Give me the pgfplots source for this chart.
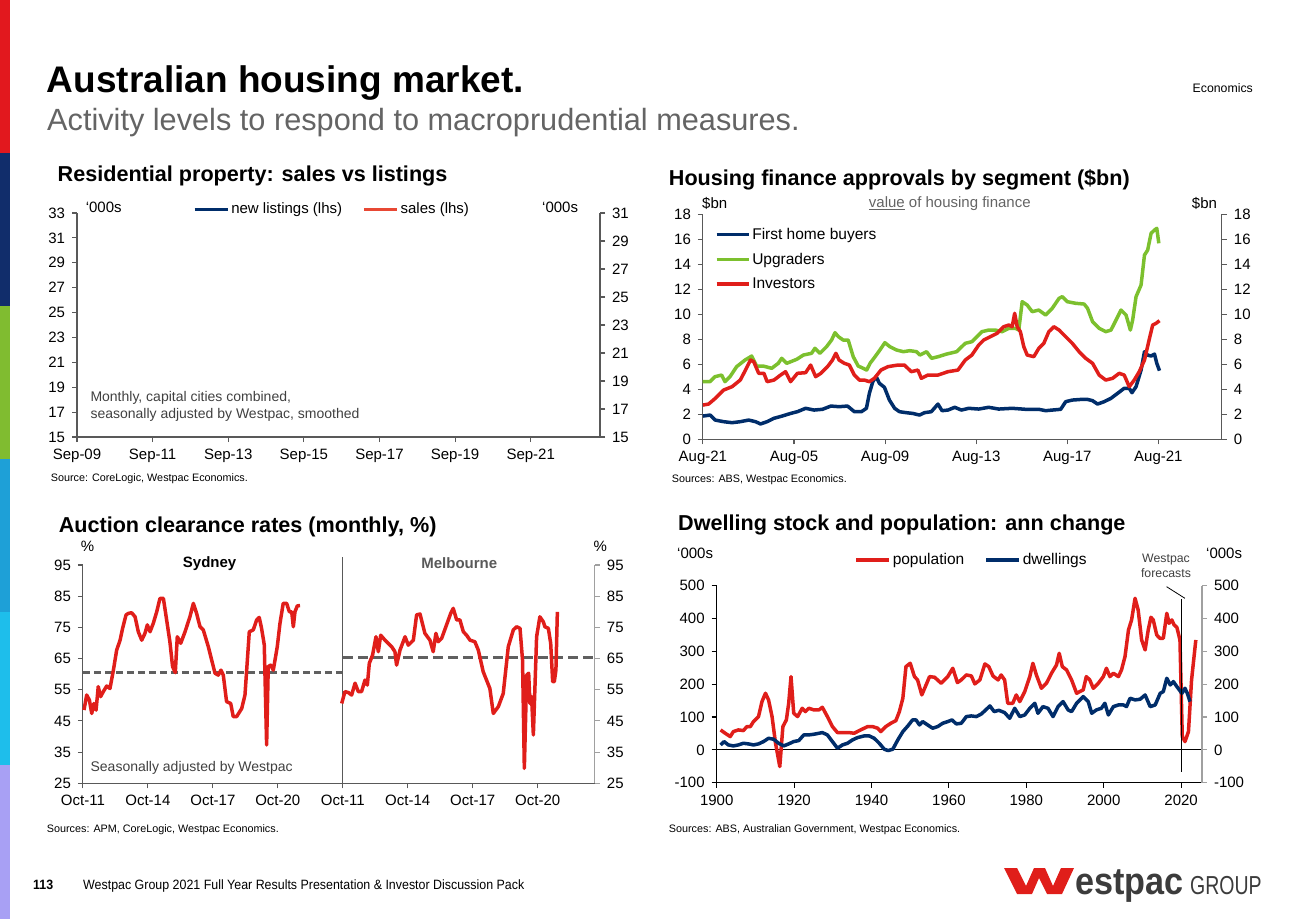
\documentclass[border=0pt]{standalone}
\usepackage{fontspec}
\setmainfont{Liberation Sans}
\newfontfamily\narrowfont[FakeStretch=0.92]{Liberation Sans}
\newfontfamily\logofont[FakeStretch=0.9]{Liberation Sans}
\newfontfamily\groupfont[FakeStretch=0.75]{Liberation Sans}
\usepackage{pgfplots}
\pgfplotsset{compat=1.18}
\definecolor{wred}{RGB}{224,30,26}
\definecolor{wnavy}{RGB}{0,45,106}
\definecolor{wgreen}{RGB}{124,192,46}
\definecolor{salesred}{RGB}{232,72,52}
\definecolor{axgray}{RGB}{89,89,89}
\definecolor{ltgray}{RGB}{160,160,160}
\definecolor{dashgray}{RGB}{96,96,96}
\definecolor{subgray}{RGB}{100,100,100}
\definecolor{notegray}{RGB}{64,64,64}
\definecolor{logogray}{RGB}{60,60,60}
\definecolor{bar1}{RGB}{226,24,30}
\definecolor{bar2}{RGB}{17,45,107}
\definecolor{bar3}{RGB}{128,188,48}
\definecolor{bar4}{RGB}{30,160,215}
\definecolor{bar5}{RGB}{30,190,235}
\definecolor{bar6}{RGB}{168,160,244}
\newcommand{\fs}[1]{\fontsize{#1pt}{#1pt}\selectfont}
\pgfplotsset{
  wbase/.style={
    scale only axis, clip=false,
    axis line style={line width=1.1pt, draw=axgray},
    tick style={line width=1.1pt, draw=axgray},
    major tick length=5pt, tick align=outside,
    tick label style={font=\fs{15}},
    yticklabel shift=3.5pt, xticklabel shift=3.5pt,
    /pgf/number format/assume math mode=true,
    every axis plot/.append style={line width=3.5pt, line join=round},
  },
}
\begin{document}
\begin{tikzpicture}
\path[use as bounding box] (0pt,0pt) rectangle (1300pt,-919pt);
% side bar
\fill[bar1] (0pt,0pt) rectangle (10pt,-153pt);
\fill[bar2] (0pt,-153pt) rectangle (10pt,-306pt);
\fill[bar3] (0pt,-306pt) rectangle (10pt,-459pt);
\fill[bar4] (0pt,-459pt) rectangle (10pt,-612pt);
\fill[bar5] (0pt,-612pt) rectangle (10pt,-765pt);
\fill[bar6] (0pt,-765pt) rectangle (10pt,-919pt);
% titles
\node[anchor=base west, inner sep=0pt] at (46.7pt,-92.5pt) {\fs{37}\bfseries Australian housing market.};
\node[anchor=base west, inner sep=0pt, text=subgray] at (47pt,-130pt) {\fs{30.7}Activity levels to respond to macroprudential measures.};
\node[anchor=base east, inner sep=0pt] at (1253pt,-92pt) {\fs{12.3}Economics};
\node[anchor=base west, inner sep=0pt] at (57.5pt,-181.5pt) {\fs{21.6}\bfseries Residential property: sales vs listings};
\node[anchor=base west, inner sep=0pt] at (668.7pt,-185.5pt) {\fs{21.6}\bfseries Housing finance approvals by segment (\$bn)};
\node[anchor=base west, inner sep=0pt] at (58.6pt,-532pt) {\fs{21.6}\bfseries Auction clearance rates (monthly, \%)};
\node[anchor=base west, inner sep=0pt] at (678pt,-530pt) {\fs{21.6}\bfseries Dwelling stock and population: ann change};
% sources
\node[anchor=west, inner sep=0pt] at (50.6pt,-479pt) {\fs{10.8}Source: CoreLogic, Westpac Economics.};
\node[anchor=west, inner sep=0pt] at (671.7pt,-479.3pt) {\fs{10.8}Sources: ABS, Westpac Economics.};
\node[anchor=west, inner sep=0pt] at (46.7pt,-830pt) {\fs{10.8}Sources: APM, CoreLogic, Westpac Economics.};
\node[anchor=west, inner sep=0pt] at (668.7pt,-830pt) {\fs{10.8}Sources: ABS, Australian Government, Westpac Economics.};
% chart 1 texts
\node[anchor=west, inner sep=0pt] at (85.6pt,-207.7pt) {\fs{15}‘000s};
\node[anchor=west, inner sep=0pt] at (542pt,-207.7pt) {\fs{15}‘000s};
\node[anchor=west, inner sep=0pt, text=notegray] at (90.3pt,-398.3pt) {\fs{14}Monthly, capital cities combined,};
\node[anchor=west, inner sep=0pt, text=notegray] at (90.3pt,-415pt) {\fs{14}seasonally adjusted by Westpac, smoothed};
% chart 2 texts
\node[anchor=west, inner sep=0pt] at (702pt,-203.3pt) {\fs{15}\$bn};
\node[anchor=west, inner sep=0pt] at (1191.7pt,-203.3pt) {\fs{15}\$bn};
\node[anchor=west, inner sep=0pt, text=subgray] at (868.7pt,-203.3pt) {\fs{15}\underline{value} of housing finance};
% chart 3 texts
\node[inner sep=0pt] at (87.6pt,-546pt) {\fs{15}\%};
\node[inner sep=0pt] at (600.3pt,-546pt) {\fs{15}\%};
\node[inner sep=0pt] at (209.6pt,-563.3pt) {\fs{15}\bfseries Sydney};
\node[inner sep=0pt, text=axgray] at (459.3pt,-563.3pt) {\fs{15}\bfseries Melbourne};
\node[anchor=west, inner sep=0pt, text=notegray] at (90.4pt,-767.7pt) {\fs{14}Seasonally adjusted by Westpac};
% chart 4 texts
\node[anchor=west, inner sep=0pt] at (677pt,-553.3pt) {\fs{15}‘000s};
\node[anchor=west, inner sep=0pt] at (1206pt,-553.3pt) {\fs{15}‘000s};
\node[inner sep=0pt, text=notegray] at (1166pt,-559.3pt) {\fs{12.3}Westpac};
\node[inner sep=0pt, text=notegray] at (1166pt,-573.3pt) {\fs{12.3}forecasts};
% footer
\node[anchor=base west, inner sep=0pt] at (33pt,-889pt) {\narrowfont\fs{13.5}\bfseries 113};
\node[anchor=base west, inner sep=0pt] at (83pt,-889pt) {\narrowfont\fs{13.5}Westpac Group 2021 Full Year Results Presentation \& Investor Discussion Pack};
\fill[wred] (1004pt,-868pt) -- (1017pt,-868pt) -- (1026pt,-886pt) -- (1034pt,-868pt) -- (1045pt,-868pt) -- (1053pt,-886pt) -- (1061pt,-868pt) -- (1074pt,-868pt) -- (1062pt,-894pt) -- (1047pt,-894pt) -- (1039pt,-878pt) -- (1032pt,-894pt) -- (1017pt,-894pt) -- cycle;
\node[anchor=base west, inner sep=0pt, text=logogray] at (1075pt,-894pt) {\logofont\fs{38}\bfseries estpac};
\node[anchor=base west, inner sep=0pt, text=logogray] at (1190pt,-894pt) {\groupfont\fs{26}GROUP};

% ================= chart 1 =================
\begin{axis}[wbase, at={(77pt,-437pt)}, anchor=south west, width=523pt, height=224pt,
  xmin=0, xmax=166, ymin=15, ymax=33, ytick={15,17,...,33},
  xtick={0,24,48,72,96,120,144},
  xticklabels={Sep-09,Sep-11,Sep-13,Sep-15,Sep-17,Sep-19,Sep-21},
  axis y line*=left, axis x line*=bottom,
  legend columns=2,
  legend style={at={(0.221,1.0165)}, anchor=west, draw=none, fill=none, font=\fs{15}, inner sep=0pt,
    /tikz/every even column/.append style={column sep=18pt}},
  legend image code/.code={\draw[#1, line width=3.5pt] (0pt,0pt) -- (33pt,0pt);},
]
\addlegendimage{wnavy}
\addlegendentry{new listings (lhs)}
\addlegendimage{salesred}
\addlegendentry{sales (lhs)}
\end{axis}
\begin{axis}[wbase, at={(77pt,-437pt)}, anchor=south west, width=523pt, height=224pt,
  xmin=0, xmax=166, ymin=15, ymax=31, ytick={15,17,...,31},
  axis y line*=right, axis x line=none]
\end{axis}

% ================= chart 2 =================
\begin{axis}[wbase, at={(702.9pt,-439.3pt)}, anchor=south west, width=519pt, height=225pt,
  xmin=2001.58, xmax=2024.37, ymin=0, ymax=18, ytick={0,2,...,18},
  xtick={2001.58,2005.58,2009.58,2013.58,2017.58,2021.58},
  xticklabels={Aug-21,Aug-05,Aug-09,Aug-13,Aug-17,Aug-21},
  axis y line*=left, axis x line*=bottom,
  legend style={at={(0.0225,0.948)}, anchor=north west, draw=none, fill=none, font=\fs{15.5}, inner sep=0pt, row sep=8pt},
  legend cell align=left,
  legend image code/.code={\draw[#1, line width=3.5pt] (0pt,0pt) -- (32pt,0pt);},
]
\addplot[wnavy] coordinates {
(2001.58,1.86) (2001.90,1.94) (2002.12,1.54) (2002.49,1.41) (2002.86,1.33) (2003.22,1.41) (2003.59,1.54) (2003.89,1.41) (2004.11,1.23) (2004.40,1.41) (2004.70,1.68) (2005.06,1.86) (2005.43,2.07) (2005.73,2.21) (2006.09,2.48) (2006.46,2.34) (2006.83,2.40) (2007.20,2.66) (2007.56,2.61) (2007.93,2.66) (2008.23,2.21) (2008.54,2.21) (2008.76,2.48) (2008.89,3.68) (2009.04,4.61) (2009.19,5.01) (2009.33,4.48) (2009.55,4.16) (2009.77,3.14) (2010.00,2.48) (2010.21,2.21) (2010.51,2.13) (2010.80,2.07) (2011.09,1.94) (2011.31,2.13) (2011.61,2.21) (2011.90,2.82) (2012.08,2.29) (2012.34,2.34) (2012.64,2.56) (2012.93,2.34) (2013.25,2.48) (2013.69,2.42) (2014.13,2.56) (2014.57,2.42) (2015.16,2.48) (2015.75,2.40) (2016.33,2.40) (2016.63,2.29) (2016.92,2.34) (2017.29,2.40) (2017.51,3.01) (2017.80,3.14) (2018.17,3.19) (2018.47,3.19) (2018.69,3.09) (2018.91,2.82) (2019.20,3.01) (2019.50,3.28) (2019.79,3.68) (2020.08,4.08) (2020.30,4.08) (2020.42,3.73) (2020.60,4.21) (2020.82,5.54) (2020.97,7.01) (2021.11,6.74) (2021.26,6.66) (2021.41,6.82) (2021.51,6.08) (2021.63,5.49)
};
\addlegendentry{First home buyers}
\addplot[wgreen] coordinates {
(2001.57,4.61) (2001.89,4.61) (2002.11,5.01) (2002.40,5.14) (2002.55,4.61) (2002.77,5.01) (2003.06,5.81) (2003.43,6.34) (2003.72,6.66) (2003.94,5.86) (2004.23,5.86) (2004.60,5.68) (2004.89,6.08) (2005.04,6.48) (2005.26,6.08) (2005.70,6.40) (2005.99,6.74) (2006.35,6.88) (2006.50,7.28) (2006.72,6.88) (2007.01,7.41) (2007.23,7.94) (2007.38,8.53) (2007.53,8.21) (2007.74,7.94) (2007.96,7.94) (2008.18,6.61) (2008.40,5.86) (2008.62,5.68) (2008.77,5.54) (2008.92,6.08) (2009.14,6.61) (2009.35,7.14) (2009.57,7.73) (2009.79,7.41) (2010.09,7.14) (2010.38,7.01) (2010.67,7.09) (2010.96,7.01) (2011.11,6.74) (2011.40,7.01) (2011.62,6.48) (2011.91,6.61) (2012.28,6.82) (2012.72,7.01) (2013.10,7.68) (2013.39,7.81) (2013.61,8.21) (2013.83,8.61) (2014.13,8.74) (2014.42,8.74) (2014.72,8.61) (2015.01,8.88) (2015.30,8.88) (2015.45,8.74) (2015.60,11.01) (2015.82,10.74) (2016.04,10.21) (2016.33,10.34) (2016.63,9.94) (2016.92,10.48) (2017.22,11.28) (2017.36,11.41) (2017.58,11.01) (2017.95,10.88) (2018.32,10.82) (2018.47,10.48) (2018.69,9.41) (2018.98,8.88) (2019.27,8.61) (2019.50,8.74) (2019.72,9.54) (2019.94,10.34) (2020.16,9.94) (2020.35,8.74) (2020.45,9.54) (2020.60,11.41) (2020.82,12.34) (2020.97,14.74) (2021.11,15.14) (2021.26,16.48) (2021.41,16.74) (2021.51,16.88) (2021.60,15.68)
};
\addlegendentry{Upgraders}
\addplot[wred] coordinates {
(2001.58,2.74) (2001.83,2.82) (2002.12,3.27) (2002.49,3.94) (2002.86,4.21) (2003.22,4.74) (2003.45,5.54) (2003.67,6.34) (2003.81,6.21) (2004.03,5.28) (2004.26,5.28) (2004.40,4.61) (2004.70,4.74) (2004.99,5.14) (2005.21,5.41) (2005.43,4.61) (2005.73,5.28) (2006.09,5.33) (2006.31,5.94) (2006.53,5.01) (2006.76,5.28) (2007.05,5.81) (2007.27,6.34) (2007.42,6.88) (2007.56,6.34) (2007.79,6.08) (2008.01,5.94) (2008.23,5.14) (2008.45,4.74) (2008.67,4.74) (2008.89,4.61) (2009.11,4.88) (2009.40,5.54) (2009.70,5.81) (2010.14,5.94) (2010.43,5.94) (2010.73,5.41) (2011.02,5.54) (2011.17,4.88) (2011.46,5.14) (2011.90,5.14) (2012.34,5.41) (2012.78,5.54) (2013.10,6.34) (2013.39,6.74) (2013.69,7.54) (2013.91,7.94) (2014.20,8.21) (2014.50,8.48) (2014.79,9.01) (2015.01,9.14) (2015.16,9.01) (2015.27,10.08) (2015.38,9.01) (2015.52,8.61) (2015.67,7.41) (2015.82,6.74) (2016.11,6.61) (2016.33,7.28) (2016.55,7.68) (2016.77,8.61) (2016.99,9.01) (2017.22,8.74) (2017.51,8.21) (2017.80,7.68) (2018.10,7.01) (2018.39,6.48) (2018.69,6.08) (2018.98,5.14) (2019.27,4.74) (2019.57,4.88) (2019.86,5.28) (2020.08,5.14) (2020.30,4.21) (2020.52,4.74) (2020.74,5.41) (2020.97,6.34) (2021.19,8.08) (2021.33,9.14) (2021.48,9.28) (2021.63,9.49)
};
\addlegendentry{Investors}
\end{axis}
\begin{axis}[wbase, at={(702.9pt,-439.3pt)}, anchor=south west, width=519pt, height=225pt,
  xmin=2001.58, xmax=2024.37, ymin=0, ymax=18, ytick={0,2,...,18},
  axis y line*=right, axis x line=none]
\end{axis}

% ================= chart 3 =================
\begin{axis}[wbase, at={(82.9pt,-783.3pt)}, anchor=south west, width=512pt, height=218.3pt,
  xmin=0, xmax=283.7, ymin=25, ymax=95, ytick={25,35,...,95},
  xtick={0,36,72,108,144,180,216,252},
  xticklabels={Oct-11,Oct-14,Oct-17,Oct-20,Oct-11,Oct-14,Oct-17,Oct-20},
  axis y line*=left, axis x line*=bottom,
]
\addplot[dashgray, line width=2.3pt, dash pattern=on 7pt off 4pt] coordinates {(0,60.5) (144,60.5)};
\addplot[dashgray, line width=3.5pt, dash pattern=on 10pt off 5pt] coordinates {(144,65.3) (283.7,65.3)};
\addplot[axgray, line width=1.3pt] coordinates {(144,25) (144,97.6)};
\addplot[wred] coordinates {
(0.6,48.5) (2.1,53.3) (3.6,51.7) (4.9,47.4) (6.1,50.6) (7.3,48.5) (8.5,56.0) (9.8,52.8) (11.3,54.4) (13.2,56.2) (15.0,55.4) (16.9,61.3) (18.7,67.7) (20.6,70.9) (22.0,74.7) (23.9,79.0) (25.2,79.5) (27.0,79.7) (28.9,78.4) (30.7,73.6) (32.6,70.9) (34.4,73.1) (35.7,75.8) (37.2,73.6) (39.0,76.3) (40.9,80.0) (42.7,84.3) (44.6,84.3) (46.4,77.4) (48.2,70.4) (49.7,62.4) (51.2,60.5) (52.3,72.0) (54.2,69.9) (56.6,73.6) (59.3,78.4) (61.2,82.7) (63.0,79.5) (64.9,75.2) (66.7,74.2) (69.5,68.8) (73.2,60.3) (75.0,59.7) (76.5,61.3) (77.8,59.7) (79.6,51.2) (81.9,50.6) (83.3,46.4) (85.2,46.4) (88.0,49.0) (89.8,53.3) (92.2,73.6) (94.4,74.2) (96.3,77.4) (97.7,78.2) (99.0,74.7) (100.5,69.4) (101.8,37.3) (102.7,62.4) (104.0,62.9) (105.5,61.3) (107.7,68.8) (109.2,76.3) (111.0,82.7) (112.9,82.7) (114.4,80.0) (115.7,80.0) (116.6,75.2) (117.5,80.0) (118.8,81.9) (120.3,82.0)
};
\addplot[wred] coordinates {
(143.4,50.6) (145.2,54.4) (147.1,54.1) (148.9,53.3) (150.8,57.1) (152.6,54.4) (154.4,54.4) (156.3,58.1) (157.6,56.5) (158.7,63.5) (160.5,66.1) (162.4,72.0) (163.7,67.2) (165.0,72.5) (167.4,70.9) (171.1,68.8) (172.9,67.2) (173.8,62.9) (175.7,67.7) (178.5,72.0) (180.3,69.3) (183.1,70.9) (184.9,79.0) (186.8,79.3) (189.5,73.1) (192.3,70.9) (194.1,67.2) (195.6,73.1) (196.9,70.4) (198.8,71.5) (201.5,75.8) (203.8,79.5) (205.2,81.1) (207.1,77.4) (208.9,77.4) (210.8,73.6) (212.6,72.5) (214.5,70.9) (217.2,70.4) (219.1,67.7) (221.8,60.8) (225.5,55.4) (227.4,47.4) (230.2,49.6) (232.9,53.8) (235.7,68.8) (238.5,74.2) (240.3,75.2) (242.2,74.7) (243.6,64.5) (244.6,29.8) (245.9,59.7) (247.0,60.3) (247.7,50.6) (248.6,52.8) (249.6,40.5) (251.4,72.0) (253.2,78.4) (255.1,76.8) (256.0,75.2) (257.9,74.7) (259.2,69.9) (260.3,57.6) (261.2,57.6) (262.1,61.3) (262.9,80.0)
};
\end{axis}
\begin{axis}[wbase, at={(82.9pt,-783.3pt)}, anchor=south west, width=512pt, height=218.3pt,
  xmin=0, xmax=283.7, ymin=25, ymax=95, ytick={25,35,...,95},
  axis y line*=right, axis x line=none, axis line style={draw=ltgray}, tick style={draw=ltgray}]
\end{axis}

% ================= chart 4 =================
\begin{axis}[wbase, at={(716.7pt,-782.7pt)}, anchor=south west, width=485.3pt, height=197pt,
  xmin=1900, xmax=2025.4, ymin=-100, ymax=500, ytick={-100,0,100,200,300,400,500},
  yticklabels={-100,0,100,200,300,400,500},
  xtick={1900,1920,1940,1960,1980,2000,2020},
  xticklabels={1900,1920,1940,1960,1980,2000,2020},
  axis y line*=left, axis x line*=bottom, axis line style={draw=black}, tick style={draw=black},
  legend columns=2,
  legend style={at={(0.283,1.13)}, anchor=west, draw=none, fill=none, font=\fs{15.5}, inner sep=0pt,
    /tikz/every even column/.append style={column sep=18pt}},
  legend image code/.code={\draw[#1, line width=3.5pt] (0pt,0pt) -- (33pt,0pt);},
]
\addplot[black, line width=1pt, forget plot] coordinates {(1900,0) (2025.4,0)};
\addplot[wred] coordinates {
(1901.0,60.8) (1902.2,50.6) (1903.5,40.5) (1904.3,55.7) (1905.6,60.8) (1906.9,58.8) (1907.8,71.0) (1908.7,71.0) (1909.5,86.2) (1910.8,101.4) (1911.7,147.1) (1912.6,172.5) (1913.4,152.2) (1914.3,101.4) (1915.2,20.3) (1916.3,-50.9) (1917.1,71.0) (1918.0,91.3) (1918.6,142.0) (1919.2,223.2) (1919.9,111.5) (1920.9,101.4) (1922.1,126.8) (1922.9,116.6) (1923.8,126.8) (1925.1,121.7) (1926.4,121.7) (1927.3,129.8) (1928.6,101.4) (1929.9,71.0) (1931.2,52.7) (1932.5,52.7) (1934.2,52.7) (1935.5,50.6) (1937.2,60.8) (1939.0,71.0) (1940.3,71.0) (1941.6,65.9) (1942.4,55.7) (1943.7,71.0) (1945.0,81.1) (1946.3,89.2) (1947.2,116.6) (1948.1,157.2) (1948.9,253.6) (1950.0,263.8) (1951.1,223.2) (1951.9,213.1) (1953.0,167.4) (1954.1,197.9) (1955.0,223.2) (1956.3,221.2) (1958.0,202.9) (1959.7,223.2) (1961.0,248.6) (1962.2,204.9) (1963.2,213.1) (1964.5,228.3) (1965.8,225.2) (1966.7,200.9) (1968.0,213.1) (1969.3,261.8) (1970.3,253.6) (1971.4,225.0) (1972.7,213.0) (1973.5,228.2) (1974.4,213.0) (1975.2,142.0) (1976.5,142.0) (1977.4,167.3) (1978.3,147.0) (1979.6,177.5) (1980.9,223.2) (1981.7,263.7) (1982.6,228.2) (1983.9,187.6) (1985.2,202.9) (1986.5,233.3) (1987.8,258.7) (1988.5,294.2) (1989.3,253.6) (1990.4,243.5) (1991.7,213.0) (1993.0,172.4) (1993.8,177.5) (1994.7,182.6) (1995.5,223.2) (1996.4,213.0) (1997.3,187.6) (1998.6,202.9) (1999.9,223.2) (2000.7,248.6) (2001.6,223.2) (2002.5,233.3) (2003.8,223.2) (2004.6,243.5) (2005.5,284.1) (2006.4,365.3) (2007.2,395.7) (2008.1,461.7) (2008.9,426.2) (2009.8,334.8) (2010.7,304.4) (2011.5,365.3) (2012.2,403.8) (2012.8,395.7) (2013.7,350.0) (2014.5,339.9) (2015.4,339.9) (2016.3,416.0) (2016.9,385.6) (2017.6,395.7) (2018.2,380.5) (2018.9,373.4) (2019.7,334.8) (2020.3,40.5) (2021.0,25.2) (2021.9,55.7) (2022.7,213.0) (2023.8,334.8)
};
\addlegendentry{population}
\addplot[wnavy] coordinates {
(1901.0,15.1) (1901.9,25.3) (1903.0,15.1) (1904.3,12.1) (1905.6,15.1) (1906.9,20.2) (1908.2,18.2) (1909.5,15.1) (1910.8,18.2) (1912.1,25.3) (1913.4,35.4) (1914.7,32.4) (1916.0,20.2) (1917.3,12.1) (1918.6,18.2) (1919.9,25.3) (1921.2,28.3) (1922.5,45.6) (1923.8,45.6) (1925.1,47.6) (1926.4,50.6) (1927.3,52.7) (1928.6,45.6) (1929.9,25.3) (1931.2,5.0) (1932.5,15.1) (1933.8,20.2) (1935.1,30.4) (1936.4,37.5) (1938.1,42.5) (1939.4,42.5) (1940.7,35.4) (1942.0,20.2) (1943.3,2.0) (1944.3,-2.1) (1945.5,2.0) (1946.8,30.4) (1948.1,55.7) (1949.4,73.0) (1950.6,91.3) (1951.5,91.3) (1952.4,76.0) (1953.2,86.2) (1954.5,76.0) (1955.8,65.9) (1957.1,71.0) (1958.4,81.1) (1959.7,86.2) (1960.8,91.3) (1961.9,79.1) (1963.2,81.1) (1964.5,101.4) (1965.8,103.4) (1967.1,101.4) (1968.4,109.5) (1969.7,123.8) (1970.6,133.9) (1971.7,116.6) (1972.9,120.6) (1974.4,113.5) (1975.7,96.3) (1977.0,126.7) (1978.3,101.4) (1979.6,106.4) (1980.9,126.7) (1982.2,142.0) (1983.0,111.5) (1984.3,131.8) (1985.6,126.7) (1986.9,101.4) (1988.2,131.8) (1989.5,147.0) (1990.8,121.7) (1991.7,116.6) (1993.0,142.0) (1994.7,162.3) (1996.0,147.0) (1996.9,111.5) (1998.1,121.7) (1999.4,126.7) (2000.3,142.0) (2001.2,106.4) (2002.5,131.8) (2003.8,136.9) (2005.1,136.9) (2005.9,131.8) (2006.8,157.2) (2008.1,152.2) (2009.4,154.2) (2010.7,167.3) (2012.0,131.8) (2013.3,136.9) (2014.6,172.4) (2015.4,177.5) (2016.3,218.1) (2017.2,197.8) (2018.0,208.0) (2018.9,192.7) (2020.2,172.4) (2021.0,187.6) (2021.6,172.4) (2022.3,147.0)
};
\addlegendentry{dwellings}
\addplot[black, line width=0.8pt, forget plot] coordinates {(2020,-66.5) (2020,459.6)};
\draw[black, line width=0.8pt] (axis cs:2016.25,497) -- (axis cs:2020.98,461.7);
\end{axis}
\begin{axis}[wbase, at={(716.7pt,-782.7pt)}, anchor=south west, width=485.3pt, height=197pt,
  xmin=1900, xmax=2025.4, ymin=-100, ymax=500, ytick={-100,0,100,200,300,400,500},
  yticklabels={-100,0,100,200,300,400,500},
  axis y line*=right, axis x line=none, axis line style={draw=ltgray}, tick style={draw=ltgray}]
\end{axis}
\end{tikzpicture}
\end{document}
